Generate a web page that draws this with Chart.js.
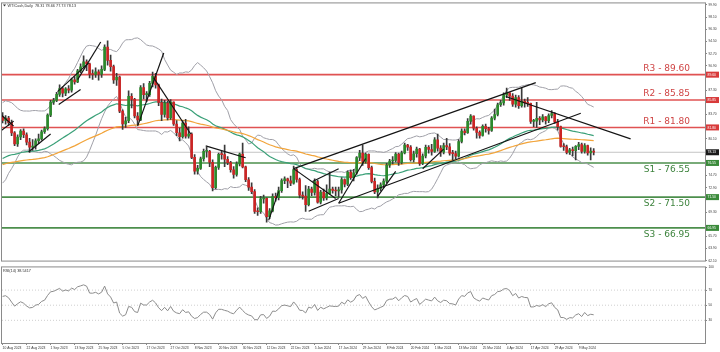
<!DOCTYPE html>
<html>
<head>
<meta charset="utf-8">
<script src="https://cdn.jsdelivr.net/npm/chart.js@4.4.1/dist/chart.umd.min.js"></script>
<style>
  html, body { margin: 0; padding: 0; background: #fff; }
  #wrap { position: relative; width: 720px; height: 352px; }
  #main { position: absolute; left: 0; top: 0; }
  #rsi { position: absolute; left: 0; top: 264px; }
</style>
</head>
<body>
<div id="wrap">
  <canvas id="main" width="720" height="264"></canvas>
  <canvas id="rsi" width="720" height="88"></canvas>
</div>
<script>
// daily bars, 10 Aug 2023 .. mid May 2024 (one bar per trading day)
const opens = [
  83.40,82.82,83.19,82.51,80.99,79.38,80.39,81.25,80.72,79.64,
  78.89,79.05,79.83,80.10,81.16,81.63,83.63,85.55,85.80,86.69,
  87.54,86.87,87.51,87.29,88.84,88.52,90.16,90.77,91.48,91.20,
  89.66,89.63,90.03,89.68,90.39,93.68,91.71,90.79,88.82,89.23,
  84.22,82.31,82.79,86.38,85.97,83.49,82.91,87.69,86.66,86.66,
  88.32,89.37,88.08,85.49,83.74,85.39,83.21,85.54,82.31,81.02,
  80.44,82.46,80.51,80.82,77.37,75.33,75.74,77.17,78.26,78.26,
  76.66,72.90,75.89,77.83,77.77,77.10,76.60,75.54,74.86,76.41,
  77.86,75.96,74.07,72.97,72.32,69.38,69.34,71.23,71.32,68.61,
  69.47,71.58,71.43,72.47,73.94,74.22,73.89,73.56,75.57,74.11,
  71.77,71.65,70.38,72.70,72.19,73.81,70.77,72.24,71.37,72.02,
  72.68,72.50,72.40,72.56,74.08,73.41,75.19,74.37,75.09,77.36,
  78.01,76.78,77.82,75.85,73.82,72.28,72.78,73.31,73.86,76.22,
  76.84,76.92,77.87,76.64,78.03,79.19,78.90,77.04,77.91,78.61,
  76.49,77.58,78.87,78.54,78.26,79.97,78.74,78.15,79.13,78.93,
  78.01,77.93,77.56,79.72,81.26,81.04,82.72,83.47,81.68,81.07,
  80.63,81.95,81.62,81.35,83.17,83.71,85.15,85.43,86.59,86.91,
  86.43,85.23,86.21,85.02,85.66,85.41,85.36,82.69,82.73,83.14,
  82.90,83.36,82.81,83.57,83.85,82.63,81.93,79.00,78.95,78.11,
  78.48,78.38,78.99,79.26,78.26,79.12,78.02,78.31
];
const highs = [
  84.00,83.55,83.45,82.90,81.20,80.70,81.50,81.60,81.00,80.20,
  80.00,80.10,80.80,81.40,81.90,83.80,85.80,86.10,87.00,88.10,
  87.80,87.70,88.00,89.10,89.30,90.40,91.20,92.40,91.80,91.30,
  90.30,90.60,90.30,90.90,94.00,94.60,92.50,91.00,89.80,89.40,
  84.40,83.30,87.20,86.80,86.10,84.00,88.00,88.30,87.10,88.60,
  90.00,89.80,88.20,86.00,85.80,85.70,85.90,85.60,82.80,81.70,
  82.80,83.00,81.90,81.00,77.80,76.20,77.40,78.60,78.90,78.40,
  77.00,76.10,78.00,78.30,79.20,77.50,76.80,76.00,76.70,78.00,
  79.50,76.10,74.40,73.60,72.60,69.90,71.60,71.80,71.40,69.80,
  72.00,72.10,73.00,74.20,74.50,74.30,74.60,76.10,75.80,74.30,
  72.30,73.20,73.10,73.00,74.20,74.00,72.50,72.70,73.30,75.20,
  73.00,73.00,73.00,74.40,74.20,75.40,75.50,75.60,77.50,78.40,
  79.20,78.00,77.90,76.10,74.30,73.30,73.60,74.20,76.50,77.10,
  77.50,78.10,78.00,78.30,79.50,79.30,79.10,78.30,78.90,78.70,
  77.90,79.20,79.10,79.30,80.30,80.80,79.10,79.50,80.20,79.40,
  78.40,78.30,80.00,81.60,81.60,83.10,83.70,83.50,81.90,81.30,
  82.20,82.30,81.80,83.40,84.50,85.40,85.80,86.90,87.60,86.90,
  86.80,86.60,86.50,87.60,86.00,86.20,85.40,83.00,85.50,83.40,
  83.70,83.40,83.80,84.30,84.00,83.00,82.00,79.40,79.20,78.70,
  78.90,79.10,79.60,79.50,79.40,79.20,78.80,78.66
];
const lows = [
  82.45,82.30,82.10,80.60,79.10,79.00,80.00,80.30,79.20,78.10,
  78.40,78.60,79.40,79.90,80.90,81.40,83.40,85.20,85.60,86.40,
  86.30,86.50,86.90,87.00,88.20,88.40,89.90,90.60,90.20,89.10,
  88.90,89.20,88.80,89.20,90.20,91.00,90.10,88.30,88.00,84.00,
  81.50,81.80,82.50,84.70,83.20,82.20,82.80,86.00,85.60,86.40,
  87.80,87.60,85.00,82.80,83.30,82.90,83.00,82.10,80.60,79.80,
  80.20,80.20,80.20,77.20,74.90,74.90,75.60,76.80,77.40,76.00,
  72.40,72.70,75.60,77.10,76.00,76.30,75.20,74.30,74.60,76.10,
  75.80,73.80,72.50,72.00,69.10,68.80,69.10,70.60,67.80,68.30,
  69.30,70.90,71.10,72.20,73.50,72.90,73.20,73.40,73.70,71.40,
  71.20,69.40,70.20,71.70,71.80,70.60,70.50,71.00,71.10,71.90,
  72.10,71.70,71.50,72.10,73.00,73.20,74.10,73.90,74.90,76.90,
  76.20,76.50,75.60,73.60,72.00,71.40,72.40,72.90,73.60,75.90,
  76.40,76.70,76.20,76.40,77.90,78.40,76.80,76.70,77.40,76.20,
  76.30,77.30,78.00,77.70,78.10,78.30,77.50,77.90,78.50,77.70,
  77.00,77.20,77.40,79.50,80.70,80.90,82.30,81.40,80.20,80.20,
  80.50,81.10,80.80,81.20,82.90,83.50,84.90,85.10,86.20,85.80,
  84.90,84.80,84.60,84.80,84.80,84.90,82.40,81.90,81.80,82.20,
  82.60,82.30,82.50,83.20,82.40,81.40,78.90,78.40,77.90,77.80,
  77.60,77.00,78.50,78.00,78.00,77.70,77.00,77.73
];
const closes = [
  82.82,83.19,82.51,80.99,79.38,80.39,81.25,80.72,79.64,78.89,
  79.05,79.83,80.10,81.16,81.63,83.63,85.55,85.80,86.69,87.54,
  86.87,87.51,87.29,88.84,88.52,90.16,90.77,91.48,91.20,89.66,
  89.63,90.03,89.68,90.39,93.68,91.71,90.79,88.82,89.23,84.22,
  82.31,82.79,86.38,85.97,83.49,82.91,87.69,86.66,86.66,88.32,
  89.37,88.08,85.49,83.74,85.39,83.21,85.54,82.31,81.02,80.44,
  82.46,80.51,80.82,77.37,75.33,75.74,77.17,78.26,78.26,76.66,
  72.90,75.89,77.83,77.77,77.10,76.60,75.54,74.86,76.41,77.86,
  75.96,74.07,72.97,72.32,69.38,69.34,71.23,71.32,68.61,69.47,
  71.58,71.43,72.47,73.94,74.22,73.89,73.56,75.57,74.11,71.77,
  71.65,70.38,72.70,72.19,73.81,70.77,72.24,71.37,72.02,72.68,
  72.50,72.40,72.56,74.08,73.41,75.19,74.37,75.09,77.36,78.01,
  76.78,77.82,75.85,73.82,72.28,72.78,73.31,73.86,76.22,76.84,
  76.92,77.87,76.64,78.03,79.19,78.90,77.04,77.91,78.61,76.49,
  77.58,78.87,78.54,78.26,79.97,78.74,78.15,79.13,78.93,78.01,
  77.93,77.56,79.72,81.26,81.04,82.72,83.47,81.68,81.07,80.63,
  81.95,81.62,81.35,83.17,83.71,85.15,85.43,86.59,86.91,86.43,
  85.23,86.21,85.02,85.66,85.41,85.36,82.69,82.73,83.14,82.90,
  83.36,82.81,83.57,83.85,82.63,81.93,79.00,78.95,78.11,78.48,
  78.38,78.99,79.26,78.26,79.12,78.02,78.31,78.13
];
// closes of the 20 days before the first bar (only used to warm up the bands / RSI)
const preCloses = [77.00,75.42,74.15,75.75,75.35,75.63,77.07,78.74,79.63,78.78,
                   80.09,80.58,81.80,81.37,79.49,81.55,82.82,81.94,82.92,84.40];

// moving average values at the first bar
const ema50Start = 77.2;
const ema100Start = 76.3;

const dateIdx = [0,8,16,24,32,40,48,56,64,72,80,88,96,104,112,120,128,136,144,152,160,168,176,184,192];
const dateLabels = ["10 Aug 2023","22 Aug 2023","1 Sep 2023","13 Sep 2023","25 Sep 2023","5 Oct 2023",
  "17 Oct 2023","27 Oct 2023","8 Nov 2023","20 Nov 2023","30 Nov 2023","12 Dec 2023","22 Dec 2023",
  "5 Jan 2024","17 Jan 2024","29 Jan 2024","8 Feb 2024","20 Feb 2024","1 Mar 2024","13 Mar 2024",
  "25 Mar 2024","4 Apr 2024","17 Apr 2024","29 Apr 2024","9 May 2024"];

const priceTicks = [62.10,63.90,65.70,67.50,69.30,71.10,72.90,74.70,76.50,78.30,80.10,
  81.90,83.70,85.50,87.30,89.10,90.90,92.70,94.50,96.30,98.10,99.90];
const rsiTicks = [100,70,50,30];
const rsiLevels = [70,50,30];

const levelNames = ["R3","R2","R1","S1","S2","S3"];
const levelValues = [89.60,85.85,81.80,76.55,71.50,66.95];
const lastPrice = 78.13;

// hand drawn trend lines: [bar, price, bar, price]
const trendLines = [
  [97.0,75.71,177.7,88.43],
  [112,70.59,192.7,83.9],
  [167.7,86.38,209.3,80.1],
  [-0.7,83.75,3.7,82.0],
  [-0.7,81.27,3.7,82.73],
  [8.7,78.2,16,80.83],
  [18.3,87.1,28.7,91.35],
  [18.7,85.2,26,87.4],
  [25,88.87,32.7,94.42],
  [45,82.0,53.7,92.8],
  [50.3,89.16,62.7,80.83],
  [67.7,79.07,81,77.32],
  [88.7,68.1,92,72.35],
  [97,75.71,111,71.3],
  [102,69.42,112,71.3],
  [103.3,73.8,112,75.7],
  [112,70.6,121,77.2],
  [125,71.6,131,75.3],
  [140,75.7,147,78.6]
];

const titleText = "WTICash,Daily  78.31 78.66 77.73 78.13";
const rsiText = "RSI(14) 38.5417";

const xMin = -0.2, xMax = 234.1;
const N = closes.length;
const UP = "#2b8a2b", DOWN = "#cc2424";

// indicators
function ema(src, start, n) {
  const k = 2 / (n + 1);
  let e = start;
  return src.map((c, i) => { if (i > 0) e += k * (c - e); return e; });
}
const allCloses = preCloses.concat(closes);
const P = preCloses.length;
const bbUp = [], bbLo = [];
for (let i = 0; i < N; i++) {
  const w = allCloses.slice(P + i - 19, P + i + 1);
  const m = w.reduce((a, b) => a + b, 0) / 20;
  const sd = Math.sqrt(w.reduce((a, b) => a + (b - m) * (b - m), 0) / 20);
  bbUp.push(m + 2 * sd);
  bbLo.push(m - 2 * sd);
}
function rsi(src, n) {
  const out = new Array(src.length).fill(null);
  let g = 0, l = 0;
  for (let i = 1; i <= n; i++) { const d = src[i] - src[i - 1]; if (d > 0) g += d; else l -= d; }
  g /= n; l /= n;
  out[n] = 100 - 100 / (1 + g / l);
  for (let i = n + 1; i < src.length; i++) {
    const d = src[i] - src[i - 1];
    g = (g * (n - 1) + Math.max(d, 0)) / n;
    l = (l * (n - 1) + Math.max(-d, 0)) / n;
    out[i] = 100 - 100 / (1 + g / l);
  }
  return out;
}
const ema50 = ema(closes, ema50Start, 50);
const ema100 = ema(closes, ema100Start, 100);
const rsiVals = rsi(allCloses, 14).slice(P);

const pts = arr => arr.map((v, i) => ({ x: i, y: v }));
const flat = v => [{ x: xMin, y: v }, { x: xMax, y: v }];
const lineDs = (data, color, width, order, extra) => Object.assign({
  type: "line", data, borderColor: color, borderWidth: width, pointRadius: 0, tension: 0, order
}, extra || {});

const datasets = [];
levelValues.forEach((v, k) => {
  datasets.push(lineDs(flat(v), k < 3 ? "#e05252" : "#4c8f4c", 1.6, 10));
});
datasets.push(lineDs(flat(lastPrice), "#c4c4c4", 1, 10));
datasets.push(lineDs(pts(bbUp), "#a0a0a8", 1, 6));
datasets.push(lineDs(pts(bbLo), "#a0a0a8", 1, 6));
datasets.push(lineDs(pts(ema100), "#f2a43a", 1.2, 5));
datasets.push(lineDs(pts(ema50), "#3aa078", 1.2, 5));
datasets.push({
  type: "bar", order: 3, grouped: false, barThickness: 1,
  data: closes.map((c, i) => ({ x: i, y: [lows[i], highs[i]] })),
  backgroundColor: "#3a3a3a"
});
datasets.push({
  type: "bar", order: 2, grouped: false, barThickness: 2, minBarLength: 1,
  data: closes.map((c, i) => ({ x: i, y: [opens[i], c] })),
  backgroundColor: closes.map((c, i) => c >= opens[i] ? UP : DOWN)
});
trendLines.forEach(t => {
  datasets.push(lineDs([{ x: t[0], y: t[1] }, { x: t[2], y: t[3] }], "#141414", 1.2, 1));
});

const tagValues = [89.60,85.85,81.80,78.13,76.55,71.50,66.95];
const tagColors = ["#d83a3a","#d83a3a","#d83a3a","#1a1a1a","#3a8a3a","#3a8a3a","#3a8a3a"];

const mainOverlay = {
  id: "mainOverlay",
  afterDraw(chart) {
    const ctx = chart.ctx, a = chart.chartArea, y = chart.scales.y;
    ctx.save();
    ctx.strokeStyle = "#8a8a8a";
    ctx.lineWidth = 1;
    ctx.strokeRect(a.left - 0.5, a.top - 0.5, a.right - a.left + 1, a.bottom - a.top + 1);
    // level captions
    ctx.font = "9px 'DejaVu Sans'";
    ctx.textAlign = "right";
    levelValues.forEach((v, k) => {
      const py = y.getPixelForValue(v);
      const txt = levelNames[k] + " - " + v.toFixed(2);
      if (k < 3) { ctx.fillStyle = "#cf4444"; ctx.textBaseline = "bottom"; ctx.fillText(txt, 690, py - 1.5); }
      else { ctx.fillStyle = "#3d833d"; ctx.textBaseline = "top"; ctx.fillText(txt, 690, py + 2); }
    });
    // price tags on the axis
    ctx.font = "3.4px 'Liberation Sans'";
    ctx.textAlign = "left";
    ctx.textBaseline = "middle";
    tagValues.forEach((v, k) => {
      const py = y.getPixelForValue(v);
      ctx.fillStyle = tagColors[k];
      ctx.fillRect(a.right + 1, py - 3, 13, 6);
      ctx.fillStyle = "#fff";
      ctx.fillText(v.toFixed(2), a.right + 2.5, py + 0.2);
    });
    // title
    ctx.fillStyle = "#333";
    ctx.beginPath();
    ctx.moveTo(3, 4.5); ctx.lineTo(6, 4.5); ctx.lineTo(4.5, 6.5); ctx.closePath(); ctx.fill();
    ctx.font = "3.8px 'Liberation Sans'";
    ctx.fillText(titleText, 7.5, 5.6);
    ctx.restore();
  }
};

new Chart(document.getElementById("main"), {
  type: "bar",
  data: { datasets },
  options: {
    responsive: false, animation: false, events: [],
    layout: { padding: { left: 2, top: 3, right: 0, bottom: 1 } },
    plugins: { legend: { display: false }, tooltip: { enabled: false } },
    scales: {
      x: { type: "linear", min: xMin, max: xMax, offset: false, display: false },
      y: {
        position: "right", min: 62.12, max: 100.13,
        afterFit: s => { s.width = 15; },
        afterBuildTicks: s => {
          s.ticks = priceTicks
            .filter(v => tagValues.every(t => Math.abs(t - v) > 0.95))
            .map(v => ({ value: v }));
        },
        ticks: { autoSkip: false, padding: 1.5, color: "#333",
                 font: { size: 3.2, family: "Liberation Sans" },
                 callback: v => Number(v).toFixed(2) },
        grid: { drawOnChartArea: false, tickLength: 2, color: "#888" },
        border: { color: "#888" }
      }
    }
  },
  plugins: [mainOverlay]
});

const rsiOverlay = {
  id: "rsiOverlay",
  afterDraw(chart) {
    const ctx = chart.ctx, a = chart.chartArea;
    ctx.save();
    ctx.strokeStyle = "#8a8a8a";
    ctx.lineWidth = 1;
    ctx.strokeRect(a.left - 0.5, a.top - 0.5, a.right - a.left + 1, a.bottom - a.top + 1);
    ctx.fillStyle = "#333";
    ctx.font = "3.8px 'Liberation Sans'";
    ctx.textBaseline = "middle";
    ctx.fillText(rsiText, 3, a.top + 4);
    ctx.restore();
  }
};

const rsiDatasets = rsiLevels.map(v =>
  lineDs(flat(v), "#cfcfcf", 1, 2, { borderDash: [1, 2] }));
rsiDatasets.push(lineDs(pts(rsiVals), "#8c8c8c", 1, 1));

new Chart(document.getElementById("rsi"), {
  type: "line",
  data: { datasets: rsiDatasets },
  options: {
    responsive: false, animation: false, events: [],
    layout: { padding: { left: 2, top: 2, right: 0, bottom: 0 } },
    plugins: { legend: { display: false }, tooltip: { enabled: false } },
    scales: {
      x: {
        type: "linear", min: xMin, max: xMax, offset: false,
        afterFit: s => { s.height = 9; },
        afterBuildTicks: s => { s.ticks = dateIdx.map(v => ({ value: v })); },
        ticks: { autoSkip: false, maxRotation: 0, align: "start", padding: 1, color: "#333",
                 font: { size: 3.3, family: "Liberation Sans" },
                 callback: v => dateLabels[dateIdx.indexOf(v)] },
        grid: { drawOnChartArea: false, tickLength: 2, color: "#888" },
        border: { color: "#888" }
      },
      y: {
        position: "right", min: 0, max: 100,
        afterFit: s => { s.width = 15; },
        afterBuildTicks: s => { s.ticks = rsiTicks.map(v => ({ value: v })); },
        ticks: { autoSkip: false, padding: 1.5, color: "#333",
                 font: { size: 3.2, family: "Liberation Sans" } },
        grid: { drawOnChartArea: false, tickLength: 2, color: "#888" },
        border: { color: "#888" }
      }
    }
  },
  plugins: [rsiOverlay]
});
</script>
</body>
</html>
